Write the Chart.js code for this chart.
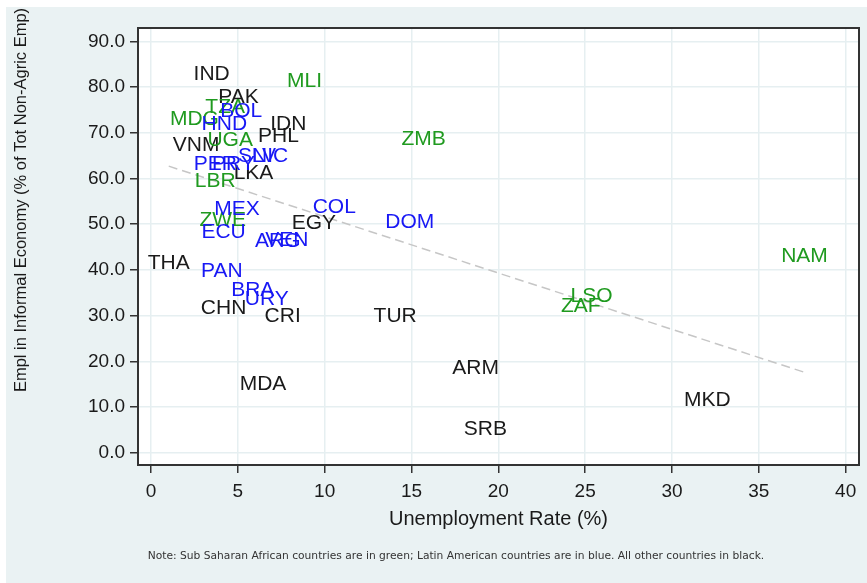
<!DOCTYPE html>
<html>
<head>
<meta charset="utf-8">
<script src="https://cdn.jsdelivr.net/npm/chart.js@4.4.1/dist/chart.umd.min.js"></script>
<style>
  html, body { margin: 0; padding: 0; background: #ffffff; }
  #wrap { width: 867px; height: 583px; }
</style>
</head>
<body>
<div id="wrap"><canvas id="c" width="867" height="583"></canvas></div>
<script>
// ---- Data (label centres) ----
const otherCodes = ["IND","PAK","IDN","PHL","VNM","LKA","EGY","THA","CHN","CRI","TUR","MDA","ARM","SRB","MKD"];
const otherUnemp = [3.49, 5.04, 7.9, 7.34, 2.6, 5.9, 9.38, 1.02, 4.18, 7.58, 14.06, 6.45, 18.69, 19.25, 32.04];
const otherInformal = [83.1, 78.0, 72.1, 69.4, 67.5, 61.4, 50.4, 41.7, 31.8, 30.0, 30.0, 15.2, 18.8, 5.3, 11.8];

const ssaCodes = ["MLI","TZA","MDG","UGA","LBR","ZMB","ZWE","NAM","LSO","ZAF"];
const ssaUnemp = [8.84, 4.27, 2.5, 4.56, 3.7, 15.7, 4.13, 37.63, 25.37, 24.75];
const ssaInformal = [81.5, 75.8, 73.1, 68.7, 59.7, 68.9, 51.2, 43.3, 34.4, 32.2];

const latCodes = ["ARG","BOL","BRA","COL","DOM","ECU","HND","MEX","NIC","PAN","PER","PRY","SLV","URY","VEN"];
const latUnemp = [7.3, 5.19, 5.86, 10.55, 14.9, 4.18, 4.22, 4.95, 6.86, 4.08, 3.7, 4.75, 6.1, 6.67, 7.82];
const latInformal = [46.4, 74.9, 35.8, 53.9, 50.6, 48.4, 72.0, 53.4, 65.0, 39.9, 63.4, 63.4, 65.0, 33.8, 46.8];

const fitUnemp = [1.02, 37.63];
const fitInformal = [62.7, 17.6];

const xTicks = [0, 5, 10, 15, 20, 25, 30, 35, 40];
const yTicks = [0, 10, 20, 30, 40, 50, 60, 70, 80, 90];

const xTitle = "Unemployment Rate (%)";
const yTitle = "Empl in Informal Economy (% of Tot Non-Agric Emp)";
const noteText = "Note: Sub Saharan African countries are in green; Latin American countries are in blue. All other countries in black.";

// ---- Build datasets ----
function pts(xs, ys, codes) { return xs.map((x, i) => ({ x: x, y: ys[i], code: codes ? codes[i] : null })); }

const LABEL_FONT = '21px "Liberation Sans", Arial, sans-serif';

const labelPlugin = {
  id: 'labels',
  beforeDraw(chart) {
    const ctx = chart.ctx, a = chart.chartArea;
    ctx.save();
    ctx.fillStyle = '#ffffff';
    ctx.fillRect(0, 0, chart.width, chart.height);
    ctx.fillStyle = '#eaf2f3';
    ctx.fillRect(6, 7, chart.width - 6, chart.height - 7);
    ctx.fillStyle = '#ffffff';
    ctx.fillRect(a.left, a.top, a.right - a.left, a.bottom - a.top);
    ctx.restore();
  },
  afterDatasetsDraw(chart) {
    const ctx = chart.ctx;
    ctx.save();
    ctx.font = LABEL_FONT;
    ctx.textAlign = 'center';
    ctx.textBaseline = 'middle';
    chart.data.datasets.forEach((ds, di) => {
      if (!ds.labelColor) return;
      const meta = chart.getDatasetMeta(di);
      ctx.fillStyle = ds.labelColor;
      meta.data.forEach((el, i) => {
        const code = ds.data[i].code;
        ctx.fillText(code, el.x, el.y + 1);
      });
    });
    ctx.restore();
  },
  afterDraw(chart) {
    const ctx = chart.ctx, a = chart.chartArea;
    ctx.save();
    ctx.strokeStyle = '#333333';
    ctx.lineWidth = 2;
    ctx.strokeRect(a.left, a.top, a.right - a.left, a.bottom - a.top);
    ctx.fillStyle = '#1a1a1a';
    ctx.textAlign = 'center';
    ctx.textBaseline = 'middle';
    ctx.font = '20px "Liberation Sans", Arial, sans-serif';
    ctx.fillText(xTitle, (a.left + a.right) / 2, 519);
    ctx.save();
    ctx.translate(21, 200);
    ctx.rotate(-Math.PI / 2);
    ctx.font = '16.5px "Liberation Sans", Arial, sans-serif';
    ctx.fillText(yTitle, 0, 0);
    ctx.restore();
    ctx.font = '10.7px "DejaVu Sans", sans-serif';
    ctx.fillStyle = '#333333';
    ctx.fillText(noteText, 456, 556);
    ctx.restore();
  }
};

const tickFont = { family: '"Liberation Sans", Arial, sans-serif', size: 19 };

new Chart(document.getElementById('c'), {
  type: 'scatter',
  data: {
    datasets: [
      { label: 'fit', data: pts(fitUnemp, fitInformal), showLine: true, borderColor: '#c6c6c6', borderWidth: 1.5, borderDash: [9, 5], pointRadius: 0, fill: false },
      { label: 'Other', data: pts(otherUnemp, otherInformal, otherCodes), pointRadius: 0, labelColor: '#1a1a1a' },
      { label: 'Sub-Saharan Africa', data: pts(ssaUnemp, ssaInformal, ssaCodes), pointRadius: 0, labelColor: '#1f9a1f' },
      { label: 'Latin America', data: pts(latUnemp, latInformal, latCodes), pointRadius: 0, labelColor: '#1818f5' }
    ]
  },
  options: {
    responsive: false,
    animation: false,
    devicePixelRatio: 1,
    layout: { padding: { top: 28, right: 8, left: 0, bottom: 0 } },
    plugins: { legend: { display: false }, tooltip: { enabled: false }, title: { display: false } },
    scales: {
      x: {
        type: 'linear', min: -0.75, max: 40.77,
        afterBuildTicks: s => { s.ticks = xTicks.map(v => ({ value: v })); },
        afterFit: s => { s.height = 118; },
        ticks: { font: tickFont, color: '#1a1a1a', padding: 7, autoSkip: false, maxRotation: 0, callback: v => String(v) },
        grid: { color: '#e6eff1', lineWidth: 1.5, tickColor: '#333333', tickLength: 8, tickWidth: 1.5, drawTicks: true },
        border: { display: false }
      },
      y: {
        type: 'linear', min: -2.69, max: 92.93,
        afterBuildTicks: s => { s.ticks = yTicks.map(v => ({ value: v })); },
        afterFit: s => { s.width = 138; },
        ticks: { font: tickFont, color: '#1a1a1a', padding: 5, autoSkip: false, callback: v => Number(v).toFixed(1) },
        grid: { color: '#e6eff1', lineWidth: 1.5, tickColor: '#333333', tickLength: 8, tickWidth: 1.5, drawTicks: true },
        border: { display: false }
      }
    }
  },
  plugins: [labelPlugin]
});
</script>
</body>
</html>
